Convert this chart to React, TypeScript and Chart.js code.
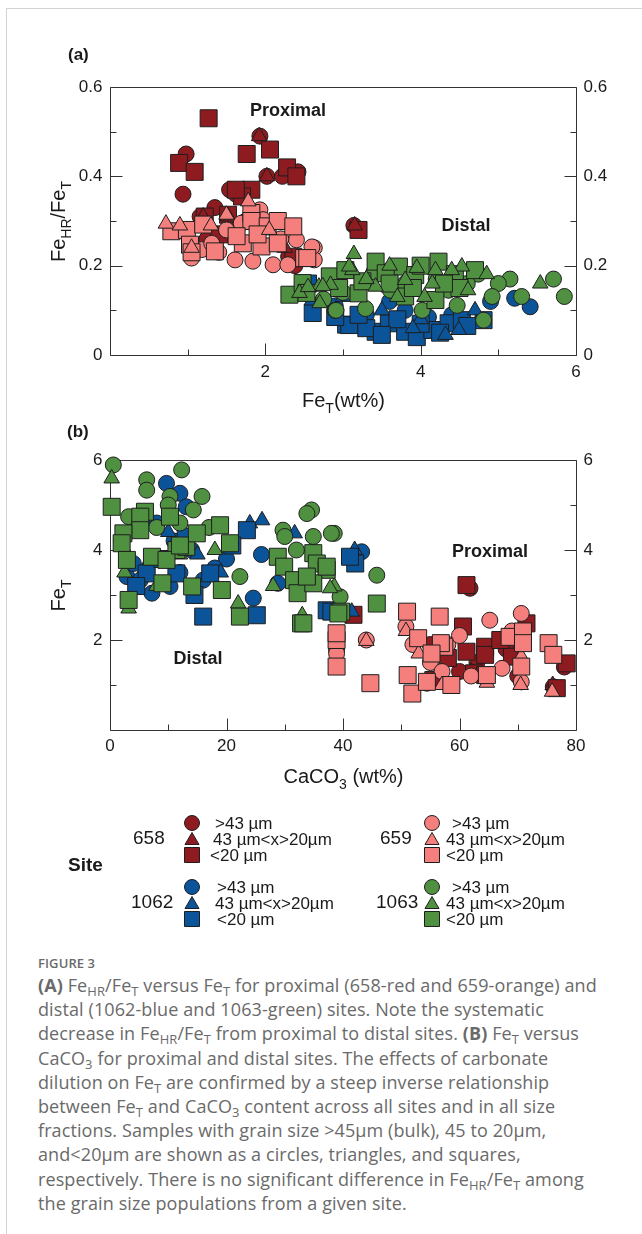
import React, { useEffect, useRef } from "react";
import { Chart, registerables } from "chart.js";

Chart.register(...registerables);

// ---------- colours ----------
const RED = "#8e1b20";
const PINK = "#f47f7c";
const BLUE = "#0b5499";
const GREEN = "#4f9141";
const EDGE = "#1e1e1e";
const AXIS = "#333333";
const FONT = '"Liberation Sans", Arial, Helvetica, sans-serif';

// ---------- panel (a): [FeT wt%, FeHR/FeT] ----------
const a658Circle = [[0.98,0.45],[0.94,0.36],[1.93,0.49],[2.02,0.40],[2.42,0.41],[1.54,0.37],[1.35,0.33],[1.16,0.31],[1.43,0.27],[2.38,0.20],[3.14,0.29],[1.62,0.36],[2.22,0.40],[1.75,0.30],[1.25,0.26],[2.3,0.22]];
const a658Triangle = [[1.92,0.49],[2.02,0.40],[1.52,0.31],[3.15,0.29],[1.2,0.31],[1.6,0.28],[2.25,0.24]];
const a658Square = [[1.27,0.53],[0.89,0.43],[1.09,0.41],[1.76,0.45],[2.06,0.46],[2.28,0.42],[2.40,0.40],[1.82,0.37],[1.70,0.355],[1.52,0.314],[1.22,0.31],[1.41,0.27],[2.36,0.22],[3.20,0.28],[1.62,0.37],[1.9,0.30]];

const a659Circle = [[1.05,0.217],[1.18,0.236],[1.31,0.25],[1.61,0.213],[1.84,0.21],[1.93,0.325],[2.1,0.202],[2.29,0.202],[2.40,0.258],[2.63,0.24],[2.63,0.213],[1.5,0.28],[1.69,0.295],[1.97,0.303],[2.6,0.242],[1.4,0.23],[1.0,0.28],[2.2,0.26]];
const a659Triangle = [[0.72,0.294],[1.05,0.24],[1.5,0.314],[1.78,0.344],[2.05,0.28],[1.3,0.29],[0.9,0.29]];
const a659Square = [[0.79,0.277],[0.99,0.28],[1.03,0.247],[1.2,0.292],[1.35,0.232],[1.71,0.25],[1.82,0.318],[1.82,0.30],[1.95,0.243],[2.03,0.288],[2.16,0.30],[2.36,0.288],[2.16,0.25],[2.5,0.217],[1.63,0.266],[1.9,0.27],[2.54,0.217],[1.05,0.23]];

const a1062Circle = [[5.41,0.108],[5.21,0.127],[4.9,0.12],[3.3,0.09],[3.8,0.1],[4.4,0.09],[2.9,0.11],[3.6,0.12],[4.1,0.085]];
const a1062Triangle = [[4.32,0.045],[4.49,0.056],[2.6,0.122],[3.5,0.1],[4.0,0.08],[3.0,0.13],[4.7,0.1],[3.9,0.06]];
const a1062Square = [[2.55,0.16],[2.61,0.094],[3.04,0.068],[3.08,0.067],[3.42,0.052],[3.59,0.071],[3.80,0.052],[3.95,0.04],[4.15,0.056],[4.36,0.071],[4.53,0.078],[4.81,0.078],[3.3,0.06],[3.7,0.08],[4.0,0.07],[4.25,0.05],[3.2,0.09],[4.6,0.065],[3.5,0.045],[2.9,0.085]];

const a1063Circle = [[5.85,0.131],[5.71,0.17],[5.30,0.131],[5.15,0.17],[5.0,0.16],[4.81,0.078],[4.92,0.131],[4.74,0.181],[3.40,0.186],[3.61,0.145],[3.29,0.104],[2.9,0.1],[4.02,0.1],[4.47,0.111],[4.36,0.145],[2.91,0.10],[3.8,0.16],[4.2,0.17],[3.0,0.14],[4.6,0.16],[3.6,0.19],[2.75,0.125]];
const a1063Triangle = [[5.54,0.16],[4.85,0.181],[3.14,0.226],[3.12,0.19],[3.42,0.153],[3.80,0.168],[4.19,0.19],[4.53,0.198],[4.15,0.16],[4.61,0.145],[2.84,0.157],[2.69,0.153],[2.44,0.139],[2.55,0.152],[2.74,0.154],[2.7,0.116],[3.08,0.198],[3.6,0.2],[3.95,0.195],[4.4,0.19],[3.3,0.17],[4.05,0.13],[3.7,0.13]];
const a1063Square = [[2.31,0.135],[2.48,0.161],[2.53,0.139],[2.83,0.176],[4.23,0.209],[3.72,0.198],[3.42,0.209],[3.03,0.19],[3.55,0.183],[3.93,0.179],[4.44,0.181],[3.8,0.131],[4.19,0.123],[3.2,0.138],[4.0,0.2],[4.7,0.19],[3.25,0.165],[3.6,0.16],[4.5,0.15],[2.95,0.15],[3.9,0.15],[4.3,0.16]];

// ---------- panel (b): [CaCO3 wt%, FeT] ----------
const b658Circle = [[61.8,3.15],[76.1,0.96],[54.4,1.04],[60,1.3],[63,1.5],[57,1.7],[68,1.8],[70,1.2],[78,1.4],[55,1.9]];
const b658Triangle = [[76,1.0],[62,1.3],[56,1.2]];
const b658Square = [[61.2,3.22],[41.8,2.56],[60.6,2.30],[64.4,1.85],[61.2,1.74],[64.4,1.67],[62.5,1.26],[64.4,1.22],[71.5,2.37],[69.0,1.63],[78.4,1.48],[76.7,0.93],[55.5,1.11],[58,1.6],[67,2.0]];

const b659Circle = [[50.8,2.30],[44.0,2.0],[38.9,1.78],[65.2,2.44],[70.6,2.59],[70.6,1.07],[67.3,1.37],[55,1.5],[58,1.9],[52,1.9],[60,2.1],[62,1.2],[57,1.3],[69,2.2],[38.9,1.70]];
const b659Triangle = [[50.8,2.2],[44.0,1.98],[75.9,0.85],[70.6,1.63],[70.5,1.0],[53,1.7],[64.7,1.05],[57,1.0]];
const b659Square = [[51.0,2.63],[56.6,2.52],[52.9,2.04],[38.9,2.0],[38.9,1.41],[44.7,1.04],[51.1,1.22],[51.9,0.81],[54.4,1.07],[58.6,1.0],[57.4,1.85],[56.8,1.93],[55.2,1.70],[68.6,2.07],[70.9,2.19],[70.9,1.93],[70.6,1.41],[64.7,1.22],[75.3,1.93],[76.1,1.67],[38.9,2.15]];

const b1062Circle = [[9.7,5.48],[12.0,5.26],[13.1,4.96],[2.9,3.41],[5.2,3.33],[7.2,3.04],[10.3,3.19],[16.0,3.33],[24.6,2.93],[28.8,3.26],[43.2,3.96],[8,4.6],[11,4.2],[14,4.0],[20,3.8],[4,3.7],[18,3.6],[12,3.5],[26,3.9]];
const b1062Triangle = [[26.1,4.66],[24.0,4.59],[31.7,4.37],[42.0,4.0],[41.5,2.63],[10,4.4],[15,3.9],[6,3.6],[19,3.5],[3,3.9]];
const b1062Square = [[16.0,2.52],[25.2,2.55],[23.5,4.44],[17.2,3.48],[42.1,3.70],[6.3,3.48],[11.4,3.48],[37.2,2.66],[41.2,3.85],[38.0,2.63],[13,4.3],[21,4.1],[9,3.8],[14.5,3.0],[4.5,3.2]];

const b1063Circle = [[0.57,5.89],[12.3,5.78],[6.3,5.56],[6.3,5.33],[10.3,5.19],[15.8,5.19],[14.3,4.89],[3.2,4.74],[22.3,3.41],[29.7,4.44],[30.0,4.30],[34.9,4.30],[34.6,4.89],[38.5,4.37],[33.8,4.81],[38.0,4.37],[45.8,3.44],[39.5,2.96],[10,5.0],[8,4.5],[2,4.2],[17,4.5],[12,4.6],[32,4.0]];
const b1063Triangle = [[0.29,5.59],[3.2,2.70],[22.0,2.81],[33.0,2.55],[38.5,3.19],[37.8,3.15],[5,4.4],[12,3.9],[18,4.0],[2.5,3.5],[8,3.2],[28,3.2]];
const b1063Square = [[0.29,4.96],[6.0,4.85],[5.2,4.74],[10.3,4.74],[18.9,4.55],[5.2,4.44],[2.3,4.37],[2.0,4.15],[2.9,3.78],[3.2,2.89],[7.2,3.85],[9.0,3.26],[14.1,3.19],[11.4,4.00],[13.1,4.07],[9.7,3.78],[14.9,4.37],[19.2,3.11],[22.3,2.52],[20.6,4.15],[28.8,3.85],[29.9,3.63],[31.6,3.33],[32.2,3.04],[34.9,3.93],[35.5,3.70],[37.2,3.56],[34.9,3.26],[32.8,2.37],[39.7,2.63],[45.8,2.81],[39.2,2.59],[37.2,3.63],[33.8,3.41],[33.2,2.37],[12,4.1]];

// ---------- axes ----------
const aXMajor = [2, 4, 6];
const aXMinor = [1, 3, 5];
const aYMajor = [0, 0.2, 0.4, 0.6];
const aYMinor = [0.1, 0.3, 0.5];
const bXMajor = [0, 20, 40, 60, 80];
const bXMinor = [10, 30, 50, 70];
const bYMajor = [2, 4, 6];
const bYMinor = [1, 3, 5];

const sizeLabels = [">43 µm", "43 µm<x>20µm", "<20 µm"];
const siteNames = ["658", "659", "1062", "1063"];

type Pt = number[];
type Style = "circle" | "triangle" | "rect";
type Seg = { t: string; sub?: boolean };

function ds(label: string, pts: Pt[], color: string, style: Style, order: number) {
  const r = style === "circle" ? 8 : style === "triangle" ? 9 : 12;
  return {
    type: "scatter" as const,
    label,
    data: pts.map(([x, y]) => ({ x, y })),
    pointStyle: style,
    pointRadius: r,
    pointHoverRadius: r,
    pointBackgroundColor: color,
    backgroundColor: color,
    pointBorderColor: EDGE,
    borderColor: EDGE,
    pointBorderWidth: 1,
    borderWidth: 1,
    showLine: false,
    clip: false as any,
    order,
  };
}

function drawSegs(ctx: CanvasRenderingContext2D, segs: Seg[], x: number, y: number, size: number, weight = "normal") {
  const main = `${weight} ${size}px ${FONT}`;
  const subf = `${weight} ${Math.round(size * 0.68)}px ${FONT}`;
  let w = 0;
  for (const s of segs) {
    ctx.font = s.sub ? subf : main;
    w += ctx.measureText(s.t).width;
  }
  let cx = x - w / 2;
  ctx.textAlign = "left";
  ctx.textBaseline = "alphabetic";
  for (const s of segs) {
    ctx.font = s.sub ? subf : main;
    ctx.fillText(s.t, cx, y + (s.sub ? size * 0.3 : 0));
    cx += ctx.measureText(s.t).width;
  }
}

function drawMarker(ctx: CanvasRenderingContext2D, style: Style, x: number, y: number, color: string) {
  ctx.beginPath();
  if (style === "circle") ctx.arc(x, y, 7.5, 0, Math.PI * 2);
  else if (style === "triangle") {
    ctx.moveTo(x, y - 6.5);
    ctx.lineTo(x + 7, y + 5.5);
    ctx.lineTo(x - 7, y + 5.5);
    ctx.closePath();
  } else ctx.rect(x - 7.5, y - 7.5, 15, 15);
  ctx.fillStyle = color;
  ctx.fill();
  ctx.strokeStyle = EDGE;
  ctx.lineWidth = 1;
  ctx.stroke();
}

type PanelCfg = {
  id: string;
  xMajor: number[]; xMinor: number[]; yMajor: number[]; yMinor: number[];
  xFmt: (v: number) => string; yFmt: (v: number) => string;
  xLabelOffset: number;
  xTitle: Seg[]; xTitleY: number;
  yTitle: Seg[]; yTitleX: number;
  tag: string; tagX: number; tagY: number;
  notes: { text: string; x: number; y: number }[];
  legend?: boolean;
};

function panelPlugin(cfg: PanelCfg) {
  return {
    id: cfg.id,
    beforeDatasetsDraw(chart: any) {
      const ctx: CanvasRenderingContext2D = chart.ctx;
      const { left, right, top, bottom } = chart.chartArea;
      const xs = chart.scales.x, ys = chart.scales.y;
      const L = Math.round(left) + 0.5, R = Math.round(right) + 0.5;
      const T = Math.round(top) + 0.5, B = Math.round(bottom) + 0.5;
      ctx.save();
      ctx.strokeStyle = AXIS;
      ctx.lineWidth = 1;
      ctx.beginPath();
      ctx.rect(L, T, R - L, B - T);
      const tick = (vals: number[], len: number) => {
        for (const v of vals) {
          const py = Math.round(ys.getPixelForValue(v)) + 0.5;
          ctx.moveTo(L, py); ctx.lineTo(L + len, py);
          ctx.moveTo(R, py); ctx.lineTo(R - len, py);
        }
      };
      tick(cfg.yMajor, 12);
      tick(cfg.yMinor, 6);
      for (const v of cfg.xMajor) {
        const px = Math.round(xs.getPixelForValue(v)) + 0.5;
        ctx.moveTo(px, B); ctx.lineTo(px, B - 12);
      }
      for (const v of cfg.xMinor) {
        const px = Math.round(xs.getPixelForValue(v)) + 0.5;
        ctx.moveTo(px, B); ctx.lineTo(px, B - 6);
      }
      ctx.stroke();
      // tick labels
      ctx.fillStyle = "#1a1a1a";
      ctx.font = `17px ${FONT}`;
      ctx.textBaseline = "middle";
      for (const v of cfg.yMajor) {
        const py = ys.getPixelForValue(v);
        ctx.textAlign = "right";
        ctx.fillText(cfg.yFmt(v), L - 8, py);
        ctx.textAlign = "left";
        ctx.fillText(cfg.yFmt(v), R + 7, py);
      }
      ctx.textAlign = "center";
      for (const v of cfg.xMajor) {
        const px = xs.getPixelForValue(v);
        ctx.fillText(cfg.xFmt(v), px, B + cfg.xLabelOffset);
      }
      // axis titles
      drawSegs(ctx, cfg.xTitle, (L + R) / 2, cfg.xTitleY, 20);
      ctx.save();
      ctx.translate(cfg.yTitleX, (T + B) / 2);
      ctx.rotate(-Math.PI / 2);
      drawSegs(ctx, cfg.yTitle, 0, 7, 20);
      ctx.restore();
      // panel tag
      ctx.font = `bold 17px ${FONT}`;
      ctx.textAlign = "left";
      ctx.textBaseline = "middle";
      ctx.fillText(cfg.tag, cfg.tagX, cfg.tagY);
      ctx.restore();
    },
    afterDatasetsDraw(chart: any) {
      const ctx: CanvasRenderingContext2D = chart.ctx;
      ctx.save();
      ctx.fillStyle = "#1a1a1a";
      ctx.font = `bold 18px ${FONT}`;
      ctx.textAlign = "center";
      ctx.textBaseline = "middle";
      for (const n of cfg.notes) ctx.fillText(n.text, n.x, n.y);
      if (cfg.legend) {
        const colors = [RED, PINK, BLUE, GREEN];
        const styles: Style[] = ["circle", "triangle", "rect"];
        const blocks = [
          { numX: 133, mx: 192, y0: 403, lx: [215, 213, 210] },
          { numX: 380, mx: 432, y0: 403, lx: [452, 446, 446] },
          { numX: 131, mx: 192, y0: 467, lx: [217, 215, 217] },
          { numX: 376, mx: 432, y0: 467, lx: [452, 446, 446] },
        ];
        ctx.font = `bold 19px ${FONT}`;
        ctx.textAlign = "left";
        ctx.fillText("Site", 68, 446);
        blocks.forEach((b, i) => {
          ctx.fillStyle = "#1a1a1a";
          ctx.font = `19px ${FONT}`;
          ctx.textAlign = "left";
          ctx.fillText(siteNames[i], b.numX, b.y0 + 16);
          styles.forEach((s, k) => {
            drawMarker(ctx, s, b.mx, b.y0 + 16 * k, colors[i]);
            ctx.fillStyle = "#1a1a1a";
            ctx.font = `17px ${FONT}`;
            ctx.fillText(sizeLabels[k], b.lx[k], b.y0 + 16 * k + 1);
          });
        });
      }
      ctx.restore();
    },
  };
}

function baseOptions(pad: any, xMin: number, xMax: number, yMin: number, yMax: number) {
  return {
    animation: false as const,
    responsive: false,
    devicePixelRatio: 1,
    events: [] as any[],
    layout: { padding: pad },
    plugins: { legend: { display: false }, tooltip: { enabled: false }, title: { display: false } },
    scales: {
      x: { type: "linear" as const, min: xMin, max: xMax, display: false },
      y: { type: "linear" as const, min: yMin, max: yMax, display: false },
    },
  };
}

export default function App() {
  const refA = useRef<HTMLCanvasElement>(null);
  const refB = useRef<HTMLCanvasElement>(null);

  useEffect(() => {
    const chartA = new Chart(refA.current as HTMLCanvasElement, {
      type: "scatter",
      data: {
        datasets: [
          ds("658 >43", a658Circle, RED, "circle", 12),
          ds("658 <20", a658Square, RED, "rect", 11),
          ds("658 43-20", a658Triangle, RED, "triangle", 10),
          ds("659 >43", a659Circle, PINK, "circle", 9),
          ds("659 <20", a659Square, PINK, "rect", 8),
          ds("659 43-20", a659Triangle, PINK, "triangle", 7),
          ds("1062 >43", a1062Circle, BLUE, "circle", 6),
          ds("1062 <20", a1062Square, BLUE, "rect", 5),
          ds("1062 43-20", a1062Triangle, BLUE, "triangle", 4),
          ds("1063 >43", a1063Circle, GREEN, "circle", 3),
          ds("1063 <20", a1063Square, GREEN, "rect", 2),
          ds("1063 43-20", a1063Triangle, GREEN, "triangle", 1),
        ] as any,
      },
      options: baseOptions({ left: 110, right: 66, top: 87, bottom: 65 }, 0, 6, 0, 0.6) as any,
      plugins: [
        panelPlugin({
          id: "panelA",
          xMajor: aXMajor, xMinor: aXMinor, yMajor: aYMajor, yMinor: aYMinor,
          xFmt: (v) => String(v),
          yFmt: (v) => (v === 0 ? "0" : v.toFixed(1)),
          xLabelOffset: 17,
          xTitle: [{ t: "Fe" }, { t: "T", sub: true }, { t: "(wt%)" }],
          xTitleY: 407,
          yTitle: [{ t: "Fe" }, { t: "HR", sub: true }, { t: "/Fe" }, { t: "T", sub: true }],
          yTitleX: 58,
          tag: "(a)", tagX: 68, tagY: 55,
          notes: [
            { text: "Proximal", x: 288, y: 111 },
            { text: "Distal", x: 466, y: 226 },
          ],
        }),
      ],
    });

    const chartB = new Chart(refB.current as HTMLCanvasElement, {
      type: "scatter",
      data: {
        datasets: [
          ds("658 >43", b658Circle, RED, "circle", 12),
          ds("658 43-20", b658Triangle, RED, "triangle", 11),
          ds("658 <20", b658Square, RED, "rect", 10),
          ds("659 >43", b659Circle, PINK, "circle", 9),
          ds("659 43-20", b659Triangle, PINK, "triangle", 8),
          ds("659 <20", b659Square, PINK, "rect", 7),
          ds("1062 >43", b1062Circle, BLUE, "circle", 6),
          ds("1062 43-20", b1062Triangle, BLUE, "triangle", 5),
          ds("1062 <20", b1062Square, BLUE, "rect", 4),
          ds("1063 >43", b1063Circle, GREEN, "circle", 3),
          ds("1063 43-20", b1063Triangle, GREEN, "triangle", 2),
          ds("1063 <20", b1063Square, GREEN, "rect", 1),
        ] as any,
      },
      options: baseOptions({ left: 110, right: 66, top: 40, bottom: 210 }, 0, 80, 0, 6) as any,
      plugins: [
        panelPlugin({
          id: "panelB",
          xMajor: bXMajor, xMinor: bXMinor, yMajor: bYMajor, yMinor: bYMinor,
          xFmt: (v) => String(v),
          yFmt: (v) => String(v),
          xLabelOffset: 16,
          xTitle: [{ t: "CaCO" }, { t: "3", sub: true }, { t: " (wt%)" }],
          xTitleY: 363,
          yTitle: [{ t: "Fe" }, { t: "T", sub: true }],
          yTitleX: 58,
          tag: "(b)", tagX: 67, tagY: 12,
          notes: [
            { text: "Distal", x: 198, y: 239 },
            { text: "Proximal", x: 490, y: 132 },
          ],
          legend: true,
        }),
      ],
    });

    return () => {
      chartA.destroy();
      chartB.destroy();
    };
  }, []);

  const sub: React.CSSProperties = { fontSize: "0.72em", verticalAlign: "-0.28em", lineHeight: 0 };
  const lines: React.ReactNode[] = [
    <><b>(A)</b> Fe<span style={sub}>HR</span>/Fe<span style={sub}>T</span> versus Fe<span style={sub}>T</span> for proximal (658-red and 659-orange) and</>,
    <>distal (1062-blue and 1063-green) sites. Note the systematic</>,
    <>decrease in Fe<span style={sub}>HR</span>/Fe<span style={sub}>T</span> from proximal to distal sites. <b>(B)</b> Fe<span style={sub}>T</span> versus</>,
    <>CaCO<span style={sub}>3</span> for proximal and distal sites. The effects of carbonate</>,
    <>dilution on Fe<span style={sub}>T</span> are confirmed by a steep inverse relationship</>,
    <>between Fe<span style={sub}>T</span> and CaCO<span style={sub}>3</span> content across all sites and in all size</>,
    <>fractions. Samples with grain size &gt;45μm (bulk), 45 to 20μm,</>,
    <>and&lt;20μm are shown as a circles, triangles, and squares,</>,
    <>respectively. There is no significant difference in Fe<span style={sub}>HR</span>/Fe<span style={sub}>T</span> among</>,
    <>the grain size populations from a given site.</>,
  ];

  return (
    <div style={{ position: "absolute", left: 0, top: 0, width: 642, height: 1234, background: "#fff", overflow: "hidden" }}>
      <div style={{ position: "absolute", left: 6, top: 8, right: 0, bottom: 0, borderLeft: "1px solid #d2d2d2", borderTop: "1px solid #d2d2d2" }} />
      <canvas ref={refA} width={642} height={420} style={{ position: "absolute", left: 0, top: 0, width: 642, height: 420 }} />
      <canvas ref={refB} width={642} height={520} style={{ position: "absolute", left: 0, top: 420, width: 642, height: 520 }} />
      <div style={{ position: "absolute", left: 38, top: 953, fontFamily: "'Open Sans', 'Noto Sans', sans-serif", color: "#6a6a6a", whiteSpace: "nowrap" }}>
        <div style={{ fontSize: 13, lineHeight: "20px", letterSpacing: "0.1px", fontWeight: 600 }}>FIGURE 3</div>
        {lines.map((l, i) => (
          <div key={i} style={{ fontSize: 18, lineHeight: "24.2px", letterSpacing: "0.1px" }}>{l}</div>
        ))}
      </div>
    </div>
  );
}
